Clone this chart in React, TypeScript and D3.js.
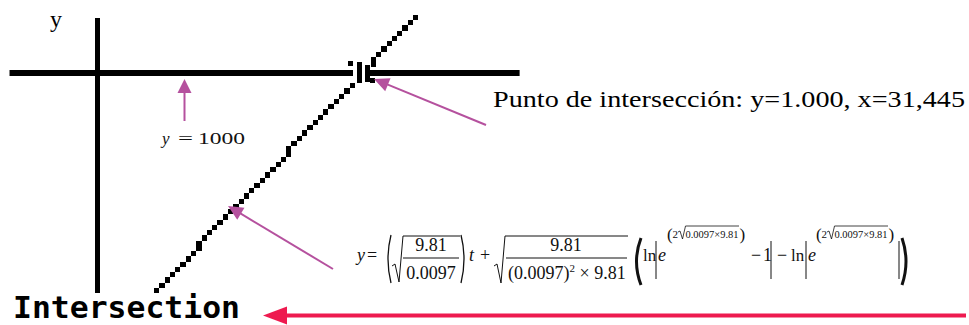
import React from "react";
import * as d3 from "d3";

// data: fall height vs time, and the level it crosses
const tValues = [7.0, 31.445, 37.6];
const yValues = [225, 1000, 1198];
const levelY = 1000;
const crossT = 31.445;
const tAxisExtent = [-10.4, 49.9];
const yAxisExtent = [216, 1196];

const yLabel = "y";
const levelLabel = ["y", "=", "1000"];
const pointLabel = "Punto de intersección: y=1.000, x=31,445";
const titleLabel = "Intersection";

const W = 969;
const H = 325;
const serif = "'Liberation Serif', 'Times New Roman', serif";
const magenta = "#b5519e";
const red = "#ee1a4f";

const x = d3.scaleLinear().domain([0, crossT]).range([97.5, 363.5]);
const y = d3.scaleLinear().domain([0, levelY]).range([353.6, 73]);

// arrow head polygon pointing at (x2, y2)
const arrowHead = (x1: number, y1: number, x2: number, y2: number, len: number, half: number) => {
  const a = Math.atan2(y2 - y1, x2 - x1);
  const bx = x2 - len * Math.cos(a);
  const by = y2 - len * Math.sin(a);
  const nx = -Math.sin(a) * half;
  const ny = Math.cos(a) * half;
  return `${x2},${y2} ${bx + nx},${by + ny} ${bx - nx},${by - ny}`;
};

const Arrow = ({ x1, y1, x2, y2, color, width, len, half }: any) => {
  const a = Math.atan2(y2 - y1, x2 - x1);
  return (
    <g>
      <line x1={x1} y1={y1} x2={x2 - (len - 2) * Math.cos(a)} y2={y2 - (len - 2) * Math.sin(a)}
        stroke={color} strokeWidth={width} />
      <polygon points={arrowHead(x1, y1, x2, y2, len, half)} fill={color} />
    </g>
  );
};

// exponent (2√0.0097×9.81)
const Sup = ({ x0 }: { x0: number }) => (
  <g transform={`translate(${x0},0)`}>
    <text x={0} y={240} fontSize={17}>(</text>
    <text x={5.5} y={238} fontSize={11}>2</text>
    <path d="M11,232 L13,231 L15.5,239 L18.5,226 L72,226" fill="none" stroke="#111" strokeWidth={0.8} />
    <text x={18.5} y={238} fontSize={11} textLength={53} lengthAdjust="spacingAndGlyphs">0.0097×9.81</text>
    <text x={72.5} y={240} fontSize={17}>)</text>
  </g>
);

const paren = (a: number, b: number, top: number, bot: number) =>
  `M${b},${top} Q${a},${(top + bot) / 2} ${b},${bot}`;

const Formula = () => (
  <g fontFamily={serif} fill="#111">
    <text x={357} y={261} fontSize={18} fontStyle="italic">y</text>
    <text x={367} y={261} fontSize={18}>=</text>
    <path d={paren(385, 391, 235, 283)} fill="none" stroke="#111" strokeWidth={1.3} />
    <path d="M392,266 L395,264 L399,282 L403,236 L460,236" fill="none" stroke="#111" strokeWidth={1} />
    <text x={431} y={251} fontSize={18} textAnchor="middle">9.81</text>
    <line x1={403} x2={459} y1={258} y2={258} stroke="#111" strokeWidth={1} />
    <text x={431} y={279} fontSize={18} textAnchor="middle">0.0097</text>
    <path d={paren(467, 461, 235, 283)} fill="none" stroke="#111" strokeWidth={1.3} />
    <text x={469} y={261} fontSize={18} fontStyle="italic">t</text>
    <text x={480} y={261} fontSize={18}>+</text>
    <path d="M494,266 L497,264 L501,283 L505,236 L628,236" fill="none" stroke="#111" strokeWidth={1} />
    <text x={566} y={251} fontSize={18} textAnchor="middle">9.81</text>
    <line x1={506} x2={627} y1={258} y2={258} stroke="#111" strokeWidth={1} />
    <text x={508} y={279} fontSize={18}>
      (0.0097)<tspan fontSize={11} dy={-7}>2</tspan><tspan dy={7}> × 9.81</tspan>
    </text>
    <path d={paren(632, 641, 238, 285)} fill="none" stroke="#111" strokeWidth={3} />
    <text x={643} y={261} fontSize={17}>ln</text>
    <line x1={656} x2={656} y1={241} y2={279} stroke="#111" strokeWidth={1} />
    <text x={658} y={261} fontSize={18} fontStyle="italic">e</text>
    <Sup x0={667} />
    <text x={751} y={261} fontSize={18}>−</text>
    <text x={763} y={261} fontSize={18}>1</text>
    <line x1={771} x2={771} y1={241} y2={279} stroke="#111" strokeWidth={1} />
    <text x={777} y={261} fontSize={18}>−</text>
    <text x={791} y={261} fontSize={17}>ln</text>
    <line x1={806} x2={806} y1={241} y2={279} stroke="#111" strokeWidth={1} />
    <text x={808} y={261} fontSize={18} fontStyle="italic">e</text>
    <Sup x0={816} />
    <line x1={899} x2={899} y1={241} y2={279} stroke="#111" strokeWidth={1} />
    <path d={paren(910, 902, 238, 285)} fill="none" stroke="#111" strokeWidth={3} />
  </g>
);

export default function App() {
  const ix = x(crossT);
  const iy = y(levelY);

  // pixel-style rendering of the line between first and last points
  const CELL = 5.3;
  const p0 = [x(tValues[0]), y(yValues[0])];
  const p1 = [x(tValues[tValues.length - 1]), y(yValues[yValues.length - 1])];
  const ny = Math.round((p0[1] - p1[1]) / CELL);
  const nx = Math.round((p1[0] - p0[0]) / CELL);
  const sx = (p1[0] - p0[0]) / nx;
  const sy = (p0[1] - p1[1]) / ny;
  const cells = d3.range(ny + 1)
    .map(j => ({ cx: p0[0] + Math.round((j * nx) / ny) * sx, cy: p0[1] - j * sy }))
    .filter(c => !(c.cx > ix - 11 && c.cx < ix + 7 && Math.abs(c.cy - iy) < 14));

  return (
    <svg width={W} height={H} style={{ position: "absolute", left: 0, top: 0, background: "#fff" }}>
      {/* axes */}
      <line x1={x(0)} x2={x(0)} y1={y(yAxisExtent[0])} y2={y(yAxisExtent[1])} stroke="#000" strokeWidth={5} />
      <line x1={x(tAxisExtent[0])} x2={ix - 10.5} y1={iy} y2={iy} stroke="#000" strokeWidth={6} />
      <line x1={ix + 6.5} x2={x(tAxisExtent[1])} y1={iy} y2={iy} stroke="#000" strokeWidth={6} />

      {/* curve as pixel blocks */}
      <g fill="#000" shapeRendering="crispEdges">
        {cells.map((c, i) => (
          <rect key={i} x={c.cx - CELL / 2} y={c.cy - CELL / 2} width={CELL} height={CELL} />
        ))}
        {/* crossing mark */}
        <rect x={ix - 6.5} y={iy - 11} width={5} height={21} />
        <rect x={ix + 1.5} y={iy - 8} width={5} height={17} />
        <rect x={ix - 15.5} y={iy - 12} width={5} height={5} />
        <rect x={ix + 6.5} y={iy + 5} width={5} height={5} />
      </g>

      {/* labels */}
      <text x={50} y={27} fontFamily={serif} fontSize={24}>{yLabel}</text>
      <g fontFamily={serif} fontSize={17} fill="#111">
        <text x={162} y={144} fontStyle="italic">{levelLabel[0]}</text>
        <text x={178} y={144} textLength={15} lengthAdjust="spacingAndGlyphs">{levelLabel[1]}</text>
        <text x={198} y={144} textLength={47} lengthAdjust="spacingAndGlyphs">{levelLabel[2]}</text>
      </g>
      <text x={493} y={107} fontFamily={serif} fontSize={24} textLength={472} lengthAdjust="spacingAndGlyphs">
        {pointLabel}
      </text>
      <text x={13} y={318} fontFamily="'DejaVu Sans Mono', monospace" fontWeight="bold" fontSize={30}
        textLength={227} lengthAdjust="spacingAndGlyphs">{titleLabel}</text>

      {/* annotation arrows */}
      <Arrow x1={184.5} y1={121} x2={184.5} y2={79} color={magenta} width={2} len={14} half={7} />
      <Arrow x1={486} y1={125} x2={374} y2={79} color={magenta} width={2} len={15} half={7} />
      <Arrow x1={333} y1={269} x2={228} y2={206} color={magenta} width={2} len={15} half={7} />
      <Arrow x1={966} y1={315.5} x2={263} y2={315.5} color={red} width={4} len={24} half={9} />

      <Formula />
    </svg>
  );
}
